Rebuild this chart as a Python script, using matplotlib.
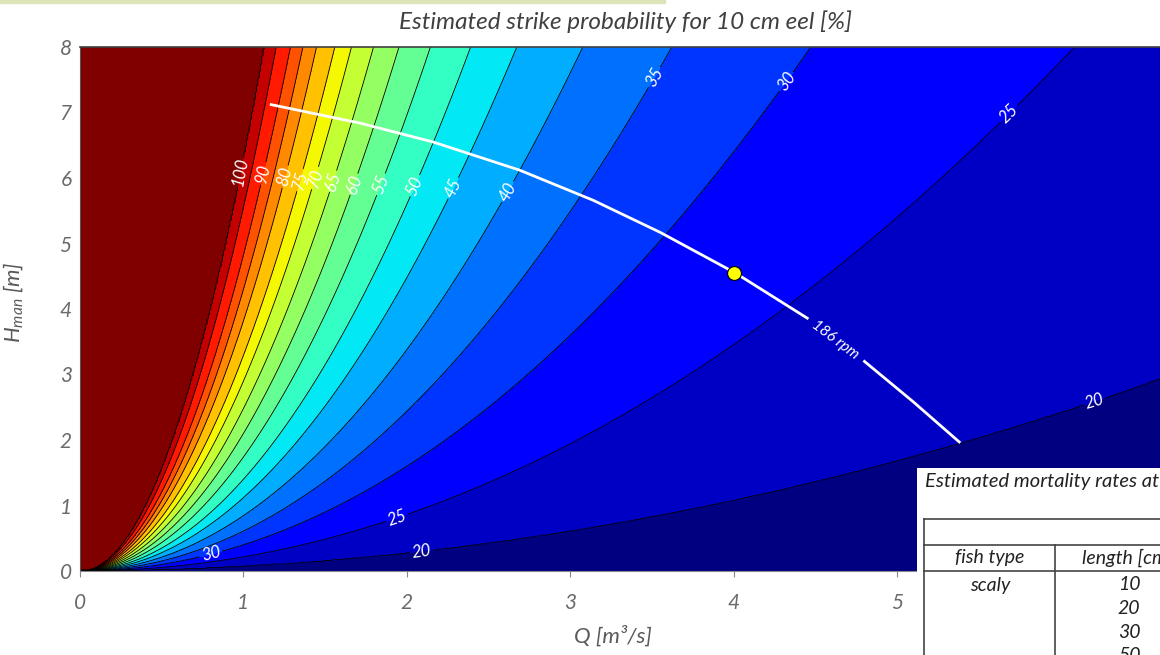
import numpy as np
import matplotlib
matplotlib.use('Agg')
import matplotlib.pyplot as plt
from matplotlib.lines import Line2D
from matplotlib.patches import Rectangle

plt.rcParams['font.family'] = ['Lato', 'DejaVu Sans']
plt.rcParams['font.style'] = 'italic'
plt.rcParams['mathtext.fontset'] = 'custom'
plt.rcParams['mathtext.it'] = 'Lato:italic'
plt.rcParams['mathtext.rm'] = 'Lato:italic'

# strike probability levels [%] and the H/Q^2 ratio each contour follows
levels = [20, 25, 30, 35, 40, 45, 50, 55, 60, 65, 70, 75, 80, 85, 90, 95, 100]
ratio = [0.067, 0.216, 0.40, 0.61, 0.845, 1.12, 1.40, 1.74, 2.10, 2.48,
         2.90, 3.29, 3.82, 4.30, 4.82, 5.55, 6.35]
p_below = 15
p_above = 110

# 186 rpm operating line and the operating point
rpm_q = [1.17, 1.71, 2.16, 2.69, 3.14, 3.55, 4.01, 4.45, 4.80, 5.10, 5.38]
rpm_h = [7.12, 6.84, 6.55, 6.12, 5.66, 5.17, 4.55, 3.86, 3.20, 2.58, 1.97]
op_q, op_h = 4.0, 4.55

# mortality table (only the part visible on the slide)
table_title = 'Estimated mortality rates at'
table_cols = ['fish type', 'length [cm]']
fish_types = ['scaly']
fish_lengths = ['10', '20', '30', '50']

# where the contour labels sit
label_pos = [(0.98, 6.09), (1.12, 6.07), (1.255, 6.02), (1.346, 5.97), (1.438, 6.0),
             (1.561, 5.94), (1.693, 5.89), (1.856, 5.89), (2.06, 5.87), (2.305, 5.82),
             (2.63, 5.77), (3.52, 7.53), (4.35, 7.42), (5.68, 6.99), (6.21, 2.53),
             (0.8, 0.27), (1.94, 0.81), (2.09, 0.29)]

W, Hpx = 1160, 655
def fx(x):
    return x / W
def fy(y):
    return 1 - y / Hpx

fig = plt.figure(figsize=(11.6, 6.55), dpi=100)
ax = fig.add_axes([fx(80), 84 / Hpx, 1144 / W, 524 / Hpx])

q = np.linspace(0, 7, 901)
h = np.linspace(0, 8, 601)
Q, H = np.meshgrid(q, h)
with np.errstate(divide='ignore', invalid='ignore'):
    s = np.where(Q > 0, H / np.maximum(Q, 1e-9) ** 2, np.inf)
P = np.interp(s, ratio, levels, left=p_below, right=p_above)

band_colors = plt.cm.jet(np.linspace(0, 1, len(levels) + 1))
ax.contourf(Q, H, P, levels=[0] + levels + [200], colors=band_colors)
cs = ax.contour(Q, H, P, levels=levels, colors='black', linewidths=0.6)
ax.clabel(cs, manual=label_pos, inline=True, inline_spacing=2, fmt='%d',
          colors='white', fontsize=12)

ax.plot(rpm_q[:8], rpm_h[:8], color='white', lw=2)
ax.plot(rpm_q[8:], rpm_h[8:], color='white', lw=2)
ax.text(4.62, 3.53, '186 rpm', rotation=-37, color='white', fontsize=11,
        ha='center', va='center', rotation_mode='anchor')
ax.plot(op_q, op_h, 'o', ms=10, mfc='#ffff00', mec='black', mew=0.8, zorder=5)

ax.set_xlim(0, 7)
ax.set_ylim(0, 8)
ax.set_xticks(range(0, 6))
ax.set_yticks(range(0, 9))
ax.tick_params(axis='x', direction='out', length=4, color='#888888',
               labelcolor='#6a6a6a', labelsize=15, pad=12)
ax.tick_params(axis='y', length=0, labelcolor='#6a6a6a', labelsize=15, pad=6)
ax.spines['top'].set_color('#404040')
ax.spines['top'].set_linewidth(1.2)
ax.spines['bottom'].set_color('#8a8a8a')
ax.spines['left'].set_color('#555555')
ax.spines['right'].set_visible(False)

top = ax.secondary_xaxis('top')
top.set_xticks([0.834 * k for k in range(1, 8)])
top.set_xticklabels([])
top.tick_params(direction='in', length=7, color='#333333', width=0.8)
top.spines['top'].set_color('#404040')

ax.set_xlabel('Q [m³/s]', fontsize=16, color='#595959', va='center')
ax.xaxis.set_label_coords((613 - 80) / 1144, (571 - 636) / 524)
ax.set_ylabel(r'$H_{man}$ [m]', fontsize=16, color='#595959')
ax.yaxis.set_label_coords((25 - 80) / 1144, (571 - 302) / 524)

fig.text(fx(625), fy(22), 'Estimated strike probability for 10 cm eel [%]',
         ha='center', va='center', fontsize=17.5, color='#404040')

# slide decoration line at the top
fig.add_artist(Rectangle((0, fy(3)), fx(665), 3 / Hpx, color='#dfe3b8',
                         transform=fig.transFigure, zorder=10))

# mortality table overlapping the plot
fig.add_artist(Rectangle((fx(917), 0), 1 - fx(917), fy(468), facecolor='white',
                         edgecolor='none', transform=fig.transFigure, zorder=10))
for yy in [519, 545, 571]:
    fig.add_artist(Line2D([fx(924), 1], [fy(yy), fy(yy)], color='#444444', lw=1.2,
                          transform=fig.transFigure, zorder=11))
fig.add_artist(Line2D([fx(924), fx(924)], [fy(519), 0], color='#444444', lw=1.2,
                      transform=fig.transFigure, zorder=11))
fig.add_artist(Line2D([fx(1055), fx(1055)], [fy(545), 0], color='#444444', lw=1.2,
                      transform=fig.transFigure, zorder=11))
fig.text(fx(925), fy(482), table_title, ha='left', va='center', fontsize=14.5,
         color='#222222', zorder=12)
fig.text(fx(990), fy(558), table_cols[0], ha='center', va='center', fontsize=14,
         color='#222222', zorder=12)
fig.text(fx(1082), fy(558), table_cols[1], ha='left', va='center', fontsize=14,
         color='#222222', zorder=12)
fig.text(fx(990), fy(585), fish_types[0], ha='center', va='center', fontsize=14,
         color='#222222', zorder=12)
for i, ln in enumerate(fish_lengths):
    fig.text(fx(1129), fy(585 + 23.5 * i), ln, ha='center', va='center', fontsize=14,
             color='#222222', zorder=12)

fig.savefig('out.png', dpi=100)
